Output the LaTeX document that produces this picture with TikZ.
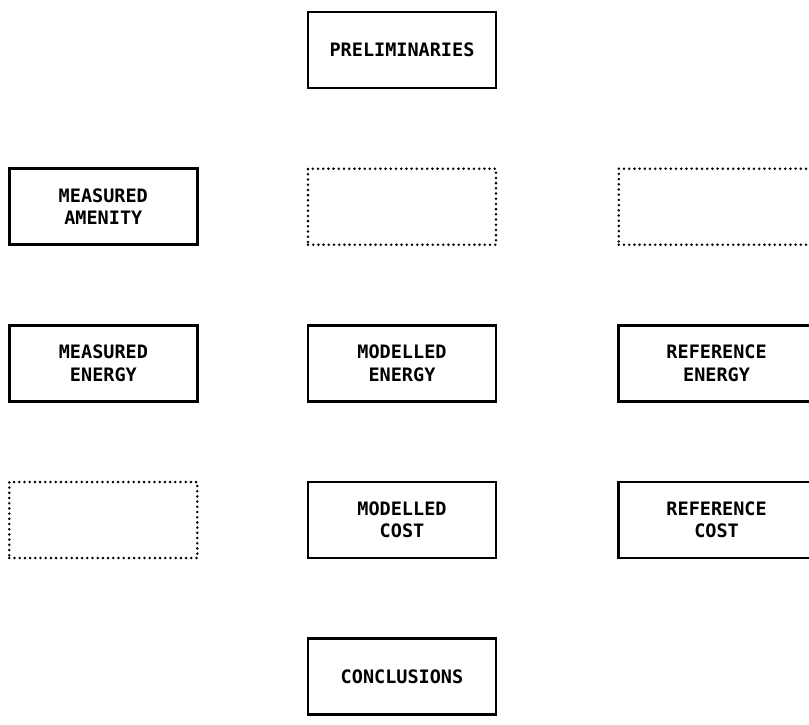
\documentclass[tikz,border=0pt]{standalone}
\usepackage{fontspec}
\newfontfamily\plotfont{DejaVu Sans Mono}
\usetikzlibrary{positioning}

\tikzset{
  stage/.style={draw, line width=2.6pt, minimum width=188pt, minimum height=76pt,
    align=center, font=\plotfont\bfseries\fontsize{18.5}{22.5}\selectfont},
  blank/.style={draw, line width=2.8pt, line cap=round, dash pattern=on 0pt off 5.2pt,
    minimum width=188pt, minimum height=76pt},
  wide/.style={minimum width=196pt}
}

\begin{document}
\begin{tikzpicture}[x=1pt, y=-1pt]
\path[use as bounding box, clip] (0,0) rectangle (809,724);

\node(pre)		[stage] at (402,50)	{PRELIMINARIES};
\node(gapb)		[blank, below = 78pt of pre]	{};
\node(amenity)	[stage, left = 108pt of gapb]
{MEASURED\\AMENITY};
\node(gapc)		[blank, wide, right = 120pt of gapb]	{};

\node(modenergy)	[stage, below = 78pt of gapb]
{MODELLED\\ENERGY};
\node(measenergy)	[stage, left = 108pt of modenergy]
{MEASURED\\ENERGY};
\node(refenergy)	[stage, wide, right = 120pt of modenergy]
{REFERENCE\\ENERGY};

\node(modcost)	[stage, below = 78pt of modenergy]
{MODELLED\\COST};
\node(gapa)		[blank, left = 108pt of modcost]	{};
\node(refcost)	[stage, wide, right = 120pt of modcost]
{REFERENCE\\COST};

\node(concl)	[stage, below = 78pt of modcost]
{CONCLUSIONS};
\end{tikzpicture}
\end{document}
